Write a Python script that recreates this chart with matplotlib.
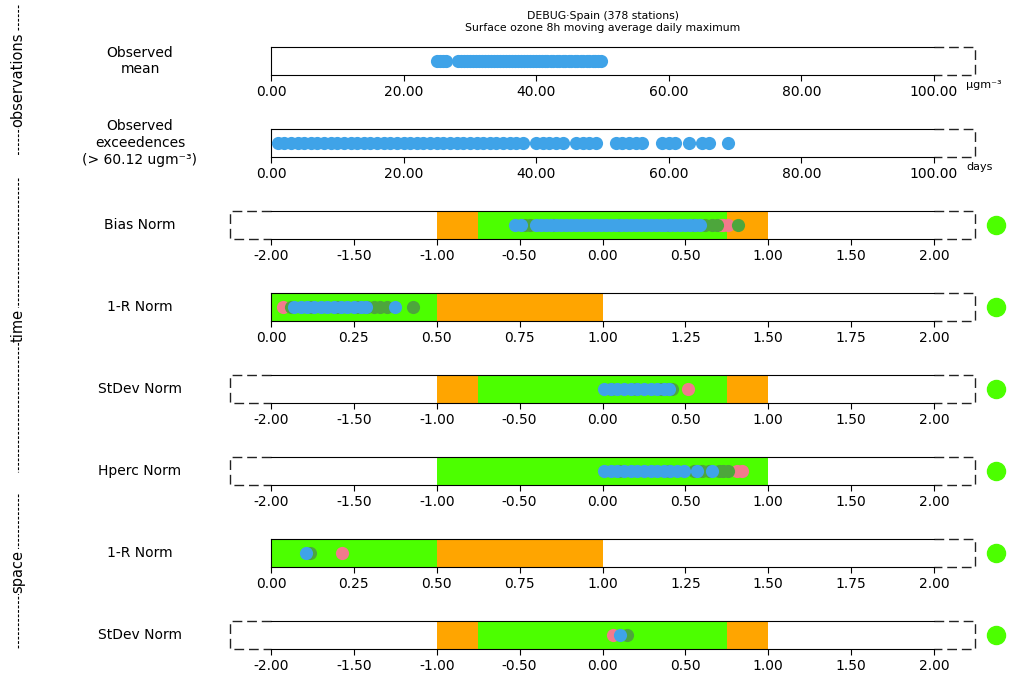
import matplotlib.pyplot as plt
from matplotlib.lines import Line2D

W, H = 1014, 682

BLUE = "#3fa3e8"
PINK = "#f27a8c"
DGREEN = "#4da63c"
LIME = "#4cff00"
ORANGE = "#ffa500"

# observations
obs_mean = [25.1, 25.5, 25.9, 26.4, 28.2, 28.7, 29.1, 29.6, 30.0, 30.5, 30.9,
            31.4, 31.8, 32.3, 32.7, 33.2, 33.6, 34.1, 34.5, 35.0, 35.4, 35.9,
            36.3, 36.8, 37.2, 37.7, 38.1, 38.6, 39.0, 39.5, 39.9, 40.4, 40.8,
            41.3, 41.7, 42.2, 42.6, 43.1, 43.5, 44.0, 44.4, 44.9, 45.3, 45.8,
            46.2, 46.7, 47.1, 47.6, 48.0, 48.5, 48.9, 49.3, 49.7]
obs_exceed = [1, 2, 3, 4, 5, 6, 7, 8, 9, 10, 11, 12, 13, 14, 15, 16, 17, 18, 19,
              20, 21, 22, 23, 24, 25, 26, 27, 28, 29, 30, 31, 32, 33, 34, 35, 36,
              37, 38, 40, 41, 42, 43, 44, 46, 47, 48, 49, 52, 53, 54, 55, 56,
              59, 60, 61, 63, 65, 66, 69]
threshold = 60.12

# time indicators
bias_pink = [0.70, 0.73, 0.76]
bias_green = [-0.47, -0.44, -0.30, 0.10, 0.40, 0.55, 0.62, 0.66, 0.69, 0.82]
bias_blue = [-0.53, -0.49, -0.40, -0.37, -0.34, -0.31, -0.28, -0.25, -0.22,
             -0.19, -0.16, -0.13, -0.10, -0.07, -0.04, -0.01, 0.02, 0.05, 0.08,
             0.11, 0.14, 0.17, 0.20, 0.23, 0.26, 0.29, 0.32, 0.35, 0.38, 0.41,
             0.44, 0.47, 0.50, 0.53, 0.56, 0.59]

corr_pink = [0.037]
corr_green = [0.06, 0.12, 0.20, 0.26, 0.29, 0.31, 0.33, 0.35, 0.427]
corr_blue = [0.07, 0.09, 0.11, 0.13, 0.15, 0.17, 0.19, 0.21, 0.23, 0.25, 0.27,
             0.286, 0.374]

std_pink = [0.513]
std_green = [0.05, 0.20, 0.35, 0.40, 0.42]
std_blue = [0.01, 0.05, 0.09, 0.13, 0.17, 0.21, 0.25, 0.29, 0.33, 0.37, 0.40]

hperc_pink = [0.81, 0.84]
hperc_green = [0.10, 0.40, 0.55, 0.60, 0.64, 0.70, 0.73, 0.76]
hperc_blue = [0.01, 0.05, 0.09, 0.13, 0.17, 0.21, 0.25, 0.29, 0.33, 0.37, 0.41,
              0.45, 0.49, 0.572, 0.66]

# space indicators
scorr_pink = [0.213]
scorr_green = [0.117]
scorr_blue = [0.105]

sstd_pink = [0.065]
sstd_green = [0.146]
sstd_blue = [0.105]

status = [LIME, LIME, LIME, LIME, LIME, LIME]

norm_ticks = [-2, -1.5, -1, -0.5, 0, 0.5, 1, 1.5, 2]
corr_ticks = [0, 0.25, 0.5, 0.75, 1, 1.25, 1.5, 1.75, 2]
obs_ticks = [0, 20, 40, 60, 80, 100]

bias_bands = [(-1, -0.75, ORANGE), (-0.75, 0.75, LIME), (0.75, 1, ORANGE)]
corr_bands = [(0, 0.5, LIME), (0.5, 1, ORANGE)]
hperc_bands = [(-1, 1, LIME)]

rows = [
    dict(label="Observed\nmean", lim=(0, 100), ticks=obs_ticks, both=False,
         bands=[], series=[(obs_mean, BLUE)], unit="μgm⁻³"),
    dict(label="Observed\nexceedences\n(> %.2f ugm⁻³)" % threshold, lim=(0, 100),
         ticks=obs_ticks, both=False, bands=[], series=[(obs_exceed, BLUE)],
         unit="days"),
    dict(label="Bias Norm", lim=(-2, 2), ticks=norm_ticks, both=True,
         bands=bias_bands,
         series=[(bias_pink, PINK), (bias_green, DGREEN), (bias_blue, BLUE)]),
    dict(label="1-R Norm", lim=(0, 2), ticks=corr_ticks, both=False,
         bands=corr_bands,
         series=[(corr_pink, PINK), (corr_green, DGREEN), (corr_blue, BLUE)]),
    dict(label="StDev Norm", lim=(-2, 2), ticks=norm_ticks, both=True,
         bands=bias_bands,
         series=[(std_pink, PINK), (std_green, DGREEN), (std_blue, BLUE)]),
    dict(label="Hperc Norm", lim=(-2, 2), ticks=norm_ticks, both=True,
         bands=hperc_bands,
         series=[(hperc_pink, PINK), (hperc_green, DGREEN), (hperc_blue, BLUE)]),
    dict(label="1-R Norm", lim=(0, 2), ticks=corr_ticks, both=False,
         bands=corr_bands,
         series=[(scorr_pink, PINK), (scorr_green, DGREEN), (scorr_blue, BLUE)]),
    dict(label="StDev Norm", lim=(-2, 2), ticks=norm_ticks, both=True,
         bands=bias_bands,
         series=[(sstd_pink, PINK), (sstd_green, DGREEN), (sstd_blue, BLUE)]),
]

fig = plt.figure(figsize=(W / 100, H / 100), dpi=100)

dash = (0, (7, 3.5))
for i, row in enumerate(rows):
    top = 47 + 82 * i
    ax = fig.add_axes([271 / W, 1 - (top + 28) / H, 663 / W, 28 / H])
    lo, hi = row["lim"]
    ax.set_xlim(lo, hi)
    ax.set_ylim(-1, 1)
    ax.set_yticks([])
    ax.spines["right"].set_visible(False)
    ax.spines["left"].set_visible(not row["both"])
    for a, b, c in row["bands"]:
        ax.axvspan(a, b, color=c, lw=0, zorder=1)
    for vals, c in row["series"]:
        ax.scatter(vals, [0] * len(vals), s=90, color=c, lw=0, zorder=3)

    ext = (hi - lo) * 41 / 663
    tr = ax.get_xaxis_transform()
    ax.plot([hi, hi + ext, hi + ext, hi], [1, 1, 0, 0], transform=tr,
            color="#222222", lw=1, ls=dash, clip_on=False)
    if row["both"]:
        ax.plot([lo, lo - ext, lo - ext, lo], [1, 1, 0, 0], transform=tr,
                color="#222222", lw=1, ls=dash, clip_on=False)

    ax.set_xticks(row["ticks"])
    ax.set_xticklabels(["%.2f" % t for t in row["ticks"]])
    ax.tick_params(axis="x", length=4, labelsize=10)

    if "unit" in row:
        ax.text((966 - 271) / 663, -0.35, row["unit"], transform=ax.transAxes,
                fontsize=8, ha="left", va="center")
    else:
        ax.plot((996 - 271) / 663, 0.5, "o", ms=13, color=status[i - 2],
                transform=ax.transAxes, clip_on=False)

    fig.text(140 / W, 1 - (top + 14) / H, row["label"], ha="center",
             va="center", fontsize=10, linespacing=1.25)

fig.text(603 / W, 1 - 22 / H,
         "DEBUG·Spain (378 stations)\nSurface ozone 8h moving average daily maximum",
         ha="center", va="center", fontsize=7.8)

groups = [("observations", 5, 155), ("time", 178, 472), ("space", 494, 649)]
for name, y0, y1 in groups:
    fig.add_artist(Line2D([18 / W, 18 / W], [1 - y0 / H, 1 - y1 / H],
                          color="k", lw=0.8, ls=(0, (2.5, 1.5))))
    fig.text(18 / W, 1 - (y0 + y1) / 2 / H, name, rotation=90, ha="center",
             va="center", fontsize=10.5,
             bbox=dict(facecolor="white", edgecolor="none", pad=0.5))

fig.savefig("out.png", dpi=100)
